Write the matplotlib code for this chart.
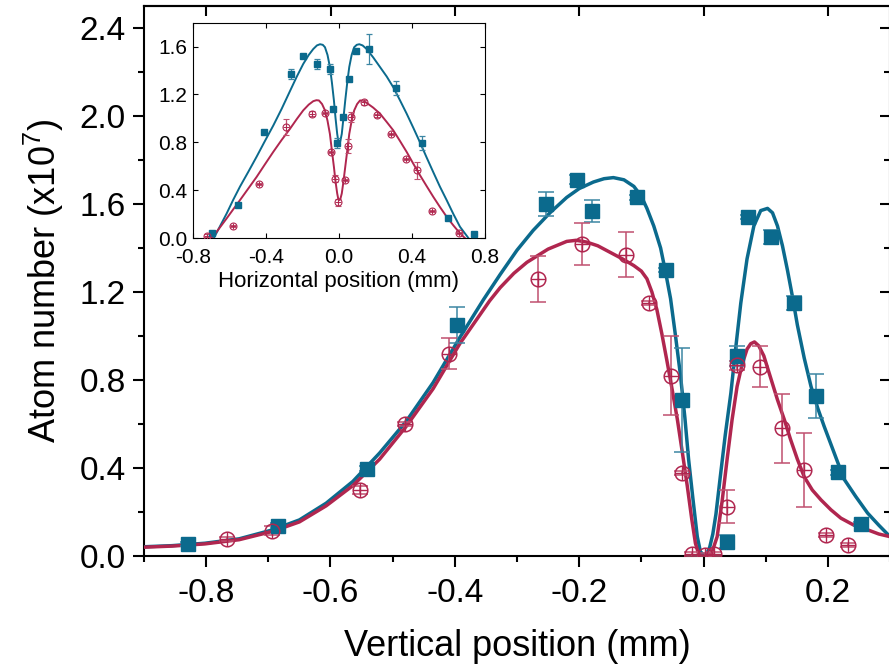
import matplotlib
matplotlib.use('Agg')
import matplotlib.pyplot as plt
from matplotlib.ticker import MultipleLocator

plt.rcParams['font.family'] = ['Liberation Sans', 'DejaVu Sans']
plt.rcParams['mathtext.default'] = 'regular'

blue = '#0b6a8d'
red = '#b0264f'
blue_err = '#3c86a3'
red_err = '#c0506f'

# main plot: vertical profile, data points
vx_b = [-0.829, -0.685, -0.541, -0.396, -0.253, -0.204, -0.180, -0.107, -0.060, -0.035,
        0.037, 0.054, 0.072, 0.109, 0.145, 0.181, 0.217, 0.253]
vy_b = [0.055, 0.138, 0.397, 1.05, 1.60, 1.71, 1.57, 1.63, 1.30, 0.71,
        0.065, 0.91, 1.54, 1.45, 1.15, 0.727, 0.38, 0.145]
ve_b = [0.01, 0.01, 0.01, 0.08, 0.056, 0.02, 0.05, 0.01, 0.01, 0.235,
        0.03, 0.045, 0.01, 0.03, 0.03, 0.10, 0.01, 0.01]

vx_r = [-0.766, -0.694, -0.552, -0.480, -0.409, -0.266, -0.196, -0.124, -0.088, -0.053,
        -0.035, -0.018, 0.003, 0.017, 0.037, 0.054, 0.091, 0.126, 0.162, 0.197, 0.233]
vy_r = [0.076, 0.115, 0.30, 0.60, 0.92, 1.26, 1.42, 1.37, 1.15, 0.82,
        0.377, 0.01, 0.005, 0.01, 0.225, 0.867, 0.86, 0.58, 0.39, 0.096, 0.05]
ve_r = [0.01, 0.02, 0.02, 0.01, 0.07, 0.104, 0.095, 0.104, 0.01, 0.18,
        0.01, 0.01, 0.01, 0.01, 0.076, 0.02, 0.093, 0.157, 0.167, 0.01, 0.01]

# main plot: fitted curves
fx_b = [-0.9, -0.855, -0.802, -0.747, -0.693, -0.65, -0.607, -0.564, -0.521, -0.478,
        -0.435, -0.392, -0.354, -0.327, -0.30, -0.274, -0.247, -0.22, -0.20, -0.177,
        -0.16, -0.145, -0.128, -0.112, -0.10, -0.091, -0.08, -0.069, -0.061, -0.053,
        -0.045, -0.037, -0.030, -0.024, -0.017, -0.010, -0.005, 0.0, 0.005, 0.010,
        0.015, 0.020, 0.027, 0.035, 0.044, 0.052, 0.060, 0.070, 0.081, 0.092,
        0.103, 0.111, 0.119, 0.127, 0.135, 0.143, 0.151, 0.162, 0.173, 0.184,
        0.194, 0.21, 0.226, 0.245, 0.264, 0.282, 0.30]
fy_b = [0.042, 0.047, 0.058, 0.078, 0.119, 0.164, 0.24, 0.339, 0.468, 0.613,
        0.788, 0.993, 1.165, 1.28, 1.39, 1.48, 1.56, 1.63, 1.67, 1.70,
        1.715, 1.72, 1.71, 1.68, 1.635, 1.58, 1.50, 1.40, 1.29, 1.17,
        1.00, 0.82, 0.63, 0.44, 0.26, 0.088, 0.02, 0.005, 0.01, 0.04,
        0.10, 0.19, 0.36, 0.55, 0.74, 0.95, 1.15, 1.35, 1.50, 1.57,
        1.58, 1.56, 1.50, 1.41, 1.30, 1.18, 1.05, 0.90, 0.77, 0.67,
        0.59, 0.47, 0.35, 0.27, 0.195, 0.14, 0.088]

fx_r = [-0.9, -0.855, -0.802, -0.747, -0.693, -0.65, -0.607, -0.564, -0.521, -0.478,
        -0.435, -0.392, -0.344, -0.327, -0.305, -0.284, -0.25, -0.22, -0.205, -0.188,
        -0.17, -0.15, -0.13, -0.112, -0.10, -0.091, -0.083, -0.075, -0.067, -0.059,
        -0.050, -0.042, -0.034, -0.026, -0.019, -0.013, -0.008, -0.005, 0.008, 0.014,
        0.022, 0.030, 0.038, 0.046, 0.054, 0.062, 0.070, 0.076, 0.082, 0.089,
        0.097, 0.108, 0.119, 0.130, 0.140, 0.151, 0.162, 0.175, 0.189, 0.205,
        0.221, 0.242, 0.264, 0.282, 0.30]
fy_r = [0.04, 0.045, 0.055, 0.074, 0.112, 0.155, 0.228, 0.32, 0.44, 0.59,
        0.76, 0.965, 1.16, 1.22, 1.285, 1.335, 1.395, 1.43, 1.435, 1.427,
        1.41, 1.38, 1.35, 1.32, 1.295, 1.26, 1.20, 1.12, 1.01, 0.89,
        0.75, 0.62, 0.47, 0.316, 0.17, 0.058, 0.01, 0.0, 0.0, 0.02,
        0.088, 0.25, 0.44, 0.62, 0.77, 0.87, 0.94, 0.965, 0.973, 0.955,
        0.91, 0.81, 0.71, 0.62, 0.53, 0.44, 0.36, 0.30, 0.255, 0.21,
        0.172, 0.14, 0.119, 0.10, 0.088]

# inset: horizontal profile, data points
hx_b = [-0.696, -0.554, -0.408, -0.264, -0.195, -0.121, -0.049, -0.034, -0.012, 0.021,
        0.057, 0.094, 0.165, 0.311, 0.453, 0.596, 0.741]
hy_b = [0.039, 0.275, 0.886, 1.37, 1.525, 1.455, 1.414, 1.078, 0.794, 1.011,
        1.333, 1.567, 1.58, 1.252, 0.794, 0.164, 0.031]
he_b = [0.01, 0.01, 0.01, 0.04, 0.01, 0.04, 0.04, 0.01, 0.04, 0.01,
        0.01, 0.01, 0.125, 0.06, 0.06, 0.01, 0.01]

hx_r = [-0.723, -0.578, -0.435, -0.291, -0.149, -0.076, -0.043, -0.021, -0.003, 0.034,
        0.052, 0.066, 0.139, 0.210, 0.284, 0.366, 0.426, 0.512, 0.658]
hy_r = [0.02, 0.10, 0.453, 0.928, 1.039, 1.047, 0.717, 0.497, 0.30, 0.483,
        0.767, 1.011, 1.136, 1.025, 0.872, 0.661, 0.567, 0.228, 0.044]
he_r = [0.01, 0.01, 0.01, 0.07, 0.02, 0.01, 0.01, 0.03, 0.03, 0.01,
        0.06, 0.04, 0.02, 0.01, 0.01, 0.01, 0.07, 0.01, 0.01]

# inset: fitted curves
gx_b = [-0.684, -0.65, -0.614, -0.578, -0.541, -0.495, -0.45, -0.405, -0.359, -0.313,
        -0.267, -0.23, -0.195, -0.165, -0.14, -0.12, -0.103, -0.088, -0.076, -0.062,
        -0.049, -0.038, -0.027, -0.018, -0.009, -0.003, 0.002, 0.008, 0.016, 0.025,
        0.035, 0.046, 0.057, 0.070, 0.084, 0.098, 0.112, 0.130, 0.152, 0.188,
        0.225, 0.262, 0.298, 0.335, 0.371, 0.408, 0.444, 0.480, 0.517, 0.553,
        0.590, 0.627, 0.663, 0.709]
gy_b = [0.0, 0.10, 0.205, 0.32, 0.43, 0.555, 0.68, 0.81, 0.94, 1.08,
        1.23, 1.35, 1.455, 1.53, 1.58, 1.61, 1.62, 1.615, 1.595, 1.53,
        1.43, 1.30, 1.15, 1.00, 0.87, 0.81, 0.80, 0.81, 0.87, 1.00,
        1.15, 1.30, 1.43, 1.53, 1.595, 1.615, 1.62, 1.61, 1.58, 1.51,
        1.43, 1.35, 1.26, 1.15, 1.04, 0.92, 0.80, 0.675, 0.55, 0.43,
        0.317, 0.20, 0.094, 0.0]

gx_r = [-0.696, -0.655, -0.614, -0.578, -0.541, -0.495, -0.45, -0.405, -0.359, -0.313,
        -0.267, -0.23, -0.195, -0.165, -0.14, -0.123, -0.109, -0.092, -0.076, -0.062,
        -0.049, -0.038, -0.027, -0.018, -0.009, -0.003, 0.002, 0.008, 0.016, 0.025,
        0.035, 0.046, 0.057, 0.070, 0.084, 0.100, 0.116, 0.133, 0.152, 0.188,
        0.225, 0.262, 0.298, 0.335, 0.371, 0.408, 0.444, 0.480, 0.517, 0.553,
        0.590, 0.627, 0.663, 0.690]
gy_r = [0.0, 0.08, 0.164, 0.24, 0.317, 0.415, 0.511, 0.615, 0.72, 0.82,
        0.914, 0.995, 1.067, 1.115, 1.144, 1.152, 1.15, 1.12, 1.067, 0.98,
        0.87, 0.73, 0.594, 0.47, 0.372, 0.325, 0.317, 0.325, 0.372, 0.47,
        0.594, 0.73, 0.87, 0.98, 1.067, 1.12, 1.15, 1.148, 1.13, 1.09,
        1.04, 0.97, 0.90, 0.81, 0.72, 0.62, 0.525, 0.435, 0.344, 0.26,
        0.178, 0.105, 0.039, 0.0]

fig = plt.figure(figsize=(8.89, 6.69), dpi=100)
ax = fig.add_axes([144 / 889, 113 / 669, 746 / 889, 550 / 669])

ax.plot(fx_b, fy_b, color=blue, lw=2.5, zorder=3)
ax.plot(fx_r, fy_r, color=red, lw=2.5, zorder=3)
ax.errorbar(vx_b, vy_b, yerr=ve_b, fmt='s', color=blue, ms=9.5, ecolor=blue_err,
            elinewidth=1.1, capsize=6, capthick=1.1, zorder=4)
ax.errorbar(vx_r, vy_r, yerr=ve_r, fmt='o', mfc='none', mec=red, mew=1.1, ms=10.5,
            ecolor=red_err, elinewidth=1.1, capsize=6, capthick=1.1, zorder=4)
ax.plot(vx_r, vy_r, '+', color=red, ms=10, mew=1.0, ls='none', zorder=4)

ax.set_xlim(-0.9, 0.3)
ax.set_ylim(0, 2.5)
ax.xaxis.set_major_locator(MultipleLocator(0.2))
ax.xaxis.set_minor_locator(MultipleLocator(0.1))
ax.yaxis.set_major_locator(MultipleLocator(0.4))
ax.yaxis.set_minor_locator(MultipleLocator(0.2))
ax.xaxis.set_major_formatter(lambda v, p: '%.1f' % v if abs(v) > 1e-9 else '0.0')
ax.yaxis.set_major_formatter(lambda v, p: '%.1f' % v)
ax.tick_params(which='major', direction='out', length=8, width=1.5, labelsize=24, pad=5)
ax.tick_params(which='minor', direction='out', length=4.5, width=1.5)
ax.tick_params(axis='x', which='major', pad=8)
for s in ax.spines.values():
    s.set_linewidth(1.5)

top = ax.secondary_xaxis('top')
top.xaxis.set_major_locator(MultipleLocator(0.2))
top.tick_params(direction='in', length=7, width=1.5, labeltop=False)
top.spines['top'].set_linewidth(1.5)
right = ax.secondary_yaxis('right')
right.yaxis.set_major_locator(MultipleLocator(0.4))
right.yaxis.set_minor_locator(MultipleLocator(0.2))
right.tick_params(which='major', direction='in', length=7, width=1.5, labelright=False)
right.tick_params(which='minor', direction='in', length=4, width=1.5)

ax.set_xlabel('Vertical position (mm)', fontsize=26, labelpad=14)
ax.set_ylabel('Atom number (x10$^7$)', fontsize=26, labelpad=10)

# inset
ins = fig.add_axes([192.7 / 889, (669 - 238) / 669, 292.3 / 889, 215.3 / 669])
ins.plot(gx_b, gy_b, color=blue, lw=1.4, zorder=3)
ins.plot(gx_r, gy_r, color=red, lw=1.4, zorder=3)
ins.errorbar(hx_b, hy_b, yerr=he_b, fmt='s', color=blue, ms=4, ecolor=blue_err,
             elinewidth=0.9, capsize=2.5, capthick=0.9, zorder=4)
ins.errorbar(hx_r, hy_r, yerr=he_r, fmt='o', mfc='none', mec=red, mew=0.8, ms=5,
             ecolor=red_err, elinewidth=0.9, capsize=2.5, capthick=0.9, zorder=4)
ins.plot(hx_r, hy_r, '+', color=red, ms=5, mew=0.7, ls='none', zorder=4)
ins.set_xlim(-0.8, 0.8)
ins.set_ylim(0, 1.8)
ins.xaxis.set_major_locator(MultipleLocator(0.4))
ins.yaxis.set_major_locator(MultipleLocator(0.4))
ins.xaxis.set_major_formatter(lambda v, p: '%.1f' % v if abs(v) > 1e-9 else '0.0')
ins.yaxis.set_major_formatter(lambda v, p: '%.1f' % v)
ins.tick_params(direction='in', length=3.5, width=0.8, labelsize=15, pad=4,
                top=True, right=True)
ins.tick_params(axis='x', pad=7)
for s in ins.spines.values():
    s.set_linewidth(0.8)
ins.set_xlabel('Horizontal position (mm)', fontsize=16, labelpad=3)

fig.savefig('out.png', dpi=100)
